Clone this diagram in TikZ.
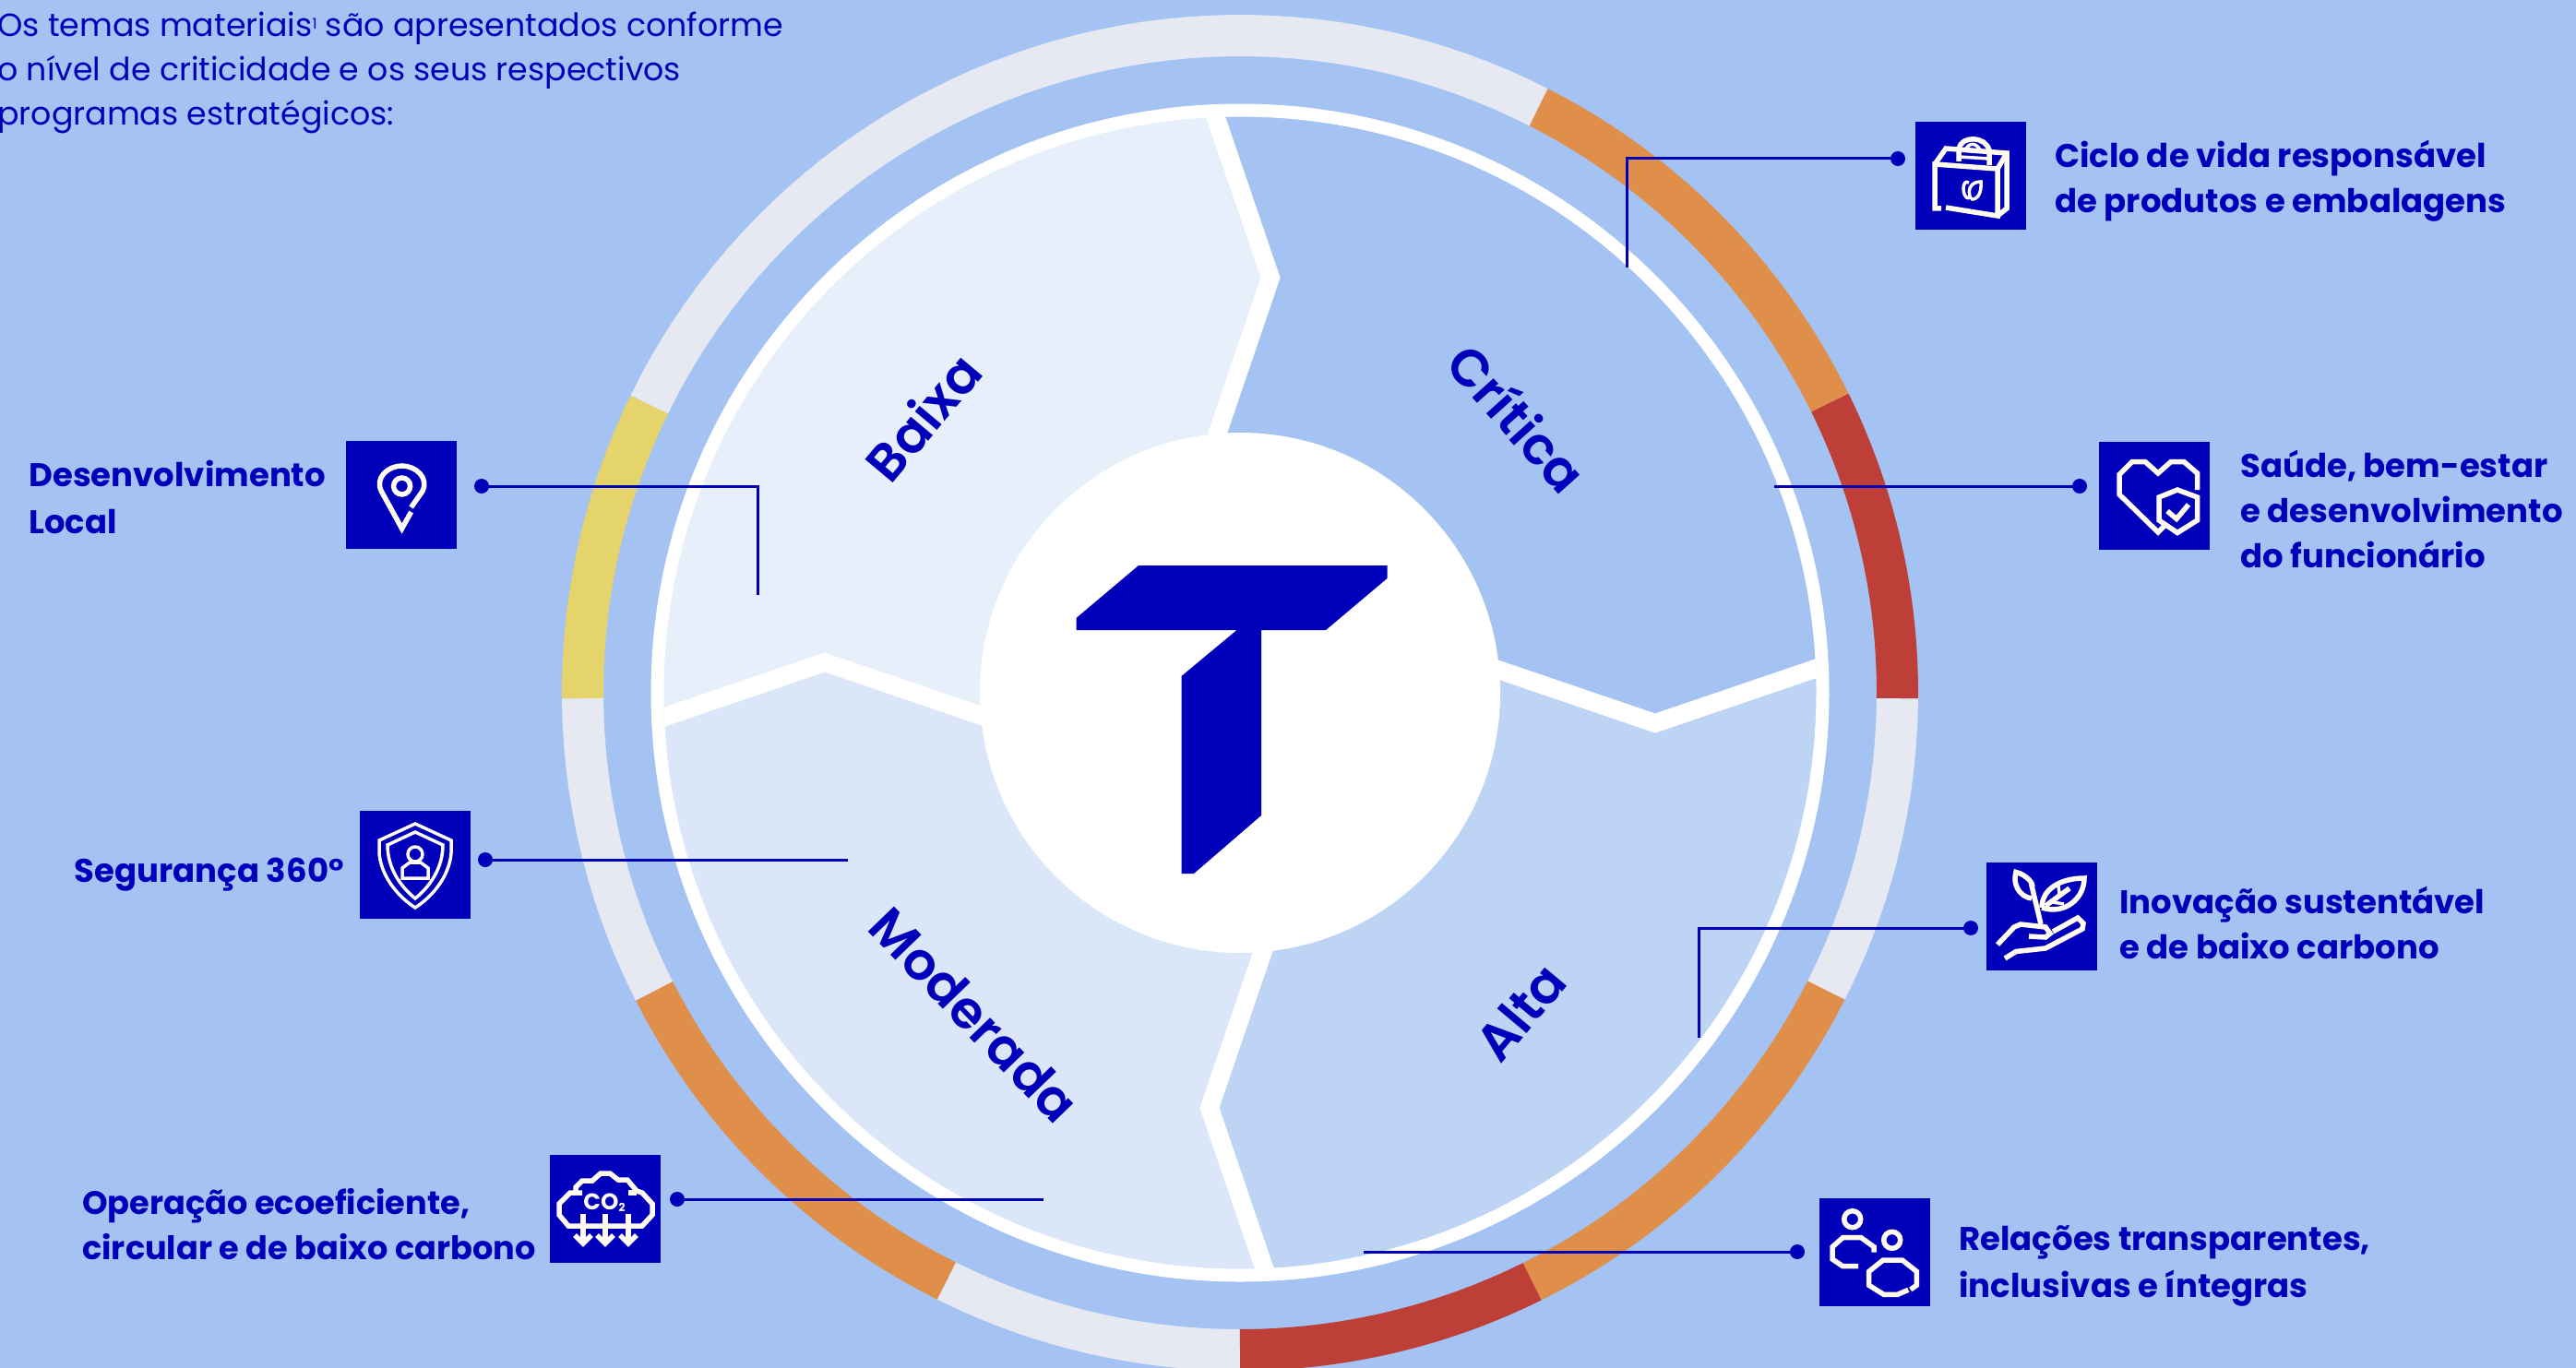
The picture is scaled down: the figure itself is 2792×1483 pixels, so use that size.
\documentclass[tikz,border=0pt]{standalone}
\usepackage{fontspec}
\setmainfont{Poppins}
\newfontfamily\medf{Poppins SemiBold}
\newdimen\px \px=0.02cm
\definecolor{bgc}{HTML}{A4C3F2}
\definecolor{navy}{HTML}{0000BB}
\definecolor{ringgray}{HTML}{E6E8F2}
\definecolor{ringorange}{HTML}{E08F4B}
\definecolor{ringred}{HTML}{BE3F38}
\definecolor{ringyellow}{HTML}{E5D36B}
\definecolor{qbaixa}{HTML}{E7EFFA}
\definecolor{qalta}{HTML}{BED4F5}
\definecolor{qmod}{HTML}{DBE7F9}
\definecolor{cream}{HTML}{FFFBF0}
\tikzset{
 x=0.02cm,y=-0.02cm,
 ringseg/.style={line width=45\px,line cap=butt,line join=round},
 divider/.style={draw=white,line width=20\px,miter limit=10,line cap=butt},
 iconbox/.style={fill=navy,draw=none,inner sep=0pt,minimum width=120\px,minimum height=117\px},
 dotn/.style={circle,fill=navy,draw=none,inner sep=0pt,minimum size=16\px},
 conn/.style={draw=navy,line width=3\px},
 icl/.style={draw=cream,line width=5.5\px,line join=miter,fill=none},
 icthin/.style={draw=cream,line width=3.5\px,line join=miter,fill=none},
 lbl/.style={text=navy,inner sep=0pt,align=left,font=\fontsize{20.2}{27.9}\selectfont\bfseries},
 lblw/.style={text=navy,inner sep=0pt,align=left,font=\fontsize{20.2}{29}\selectfont\bfseries},
 qlbl/.style={text=navy,inner sep=0pt,font=\fontsize{32}{36}\selectfont\medf},
}
\begin{document}
\begin{tikzpicture}
\useasboundingbox (0,0) rectangle (2792,1483);
\fill[bgc] (0,0) rectangle (2792,1483);
\coordinate (C) at (1344,751);
% outer ring
\begin{scope}[shift={(C)}]
\foreach \a/\b/\c in {-0.5/26.2/ringred,26.2/63/ringorange,63/154/ringgray,154/180.5/ringyellow,180.5/207/ringgray,207/243.5/ringorange,243.5/270/ringgray,270/296.4/ringred,296.4/333.1/ringorange,333.1/359.5/ringgray}{
 \draw[ringseg,\c] plot[domain=\a:\b,samples=50,variable=\t] ({712.5*cos(\t)},{-712.5*sin(\t)});
}
% quadrants
\begin{scope}
\clip (0,0) circle[radius=635];
\fill[qbaixa] (-29,-632) -- (33,-450) -- (-29,-268) -- (0,0) -- (-268,29) -- (-450,-33) -- (-632,29) -- (-700,-700) -- cycle;
\fill[bgc] (-29,-632) -- (33,-450) -- (-29,-268) -- (0,0) -- (268,-29) -- (450,33) -- (632,-29) -- (700,-700) -- cycle;
\fill[qalta] (632,-29) -- (450,33) -- (268,-29) -- (0,0) -- (29,268) -- (-33,450) -- (29,632) -- (700,700) -- cycle;
\fill[qmod] (29,632) -- (-33,450) -- (29,268) -- (0,0) -- (-268,29) -- (-450,-33) -- (-632,29) -- (-700,700) -- cycle;
\draw[divider] (-29,-632) -- (33,-450) -- (-29,-268);
\draw[divider] (632,-29) -- (450,33) -- (268,-29);
\draw[divider] (29,632) -- (-33,450) -- (29,268);
\draw[divider] (-632,29) -- (-450,-33) -- (-268,29);
\end{scope}
\draw[white,line width=14\px] (0,0) circle[radius=631.5];
\fill[white] (0,0) circle[radius=282];
\end{scope}
% logo
\fill[navy] (1234,613) -- (1503.5,613) -- (1503.5,627) -- (1437,683) -- (1367,683) -- (1367,884) -- (1294,947) -- (1280.5,947) -- (1280.5,733) -- (1340.6,683) -- (1166.5,683) -- (1166.5,670) -- cycle;
% quadrant labels
\node[qlbl,rotate=50] (qb) at (1000,452) {Baixa};
\node[qlbl,rotate=-48] (qc) at (1645,453) {Crítica};
\node[qlbl,rotate=50] (qa) at (1648,1097) {Alta};
\node[qlbl,rotate=-46] (qm) at (1056,1100) {Moderada};
% icons
\node[iconbox] (i1) at (2136,191) {};
\node[iconbox] (i2) at (2335,537) {};
\node[iconbox] (i3) at (2213,993) {};
\node[iconbox] (i4) at (2031.7,1357.5) {};
\node[iconbox] (i5) at (435.3,536.5) {};
\node[iconbox] (i6) at (450.3,937.5) {};
\node[iconbox] (i7) at (656,1310.5) {};
% connectors
\node[dotn] (d1) at (2057,172) {}; \coordinate (e1) at (1763,290);
\node[dotn] (d2) at (2254,527) {}; \coordinate (e2) at (1923,527);
\node[dotn] (d3) at (2136,1006) {}; \coordinate (e3) at (1841,1125);
\node[dotn] (d4) at (1948,1357) {}; \coordinate (e4) at (1478,1357);
\node[dotn] (d5) at (522,527) {}; \coordinate (e5) at (821,645);
\node[dotn] (d6) at (526,932) {}; \coordinate (e6) at (919,932);
\node[dotn] (d7) at (734,1300) {}; \coordinate (e7) at (1131,1300);
\draw[conn] (d1.center) -| (e1);
\draw[conn] (d2.center) -- (e2);
\draw[conn] (d3.center) -| (e3);
\draw[conn] (d4.center) -- (e4);
\draw[conn] (d5.center) -| (e5);
\draw[conn] (d6.center) -- (e6);
\draw[conn] (d7.center) -- (e7);
% bag
\begin{scope}[shift={(2076,133)}]
\draw[icl] (28,93) -- (21,93) -- (21,45) -- (89,50) -- (89,101) -- (33,92);
\draw[icl] (89,101) -- (99,93) -- (99,33) -- (33,28) -- (21,45);
\draw[icl] (89,50) -- (99,33);
\draw[icl] (47,42) -- (47,28) .. controls (50,14) and (76,14) .. (80,30) -- (80,46);
\draw[icthin] (54,30) .. controls (58,21) and (66,21) .. (71,31);
\draw[icthin] (47,37) -- (80,39);
\draw[icthin] (58,82) .. controls (50,82) and (50,60) .. (58,65);
\draw[icthin] (60,83) .. controls (55,70) and (62,64) .. (71,64) .. controls (72,75) and (68,84) .. (60,83);
\end{scope}
% heart
\begin{scope}[shift={(2275,479)}]
\draw[icl] (106.5,52) -- (106.5,34) -- (92,21.5) -- (78,21.5) -- (64,34) -- (50,21.5) -- (36,21.5) -- (22,35.5) -- (22,57) -- (64,98) -- (72,90);
\draw[icl] (85,52) -- (106.5,60) -- (106.5,85) -- (85,98.5) -- (65,85) -- (65,60) -- cycle;
\draw[icl] (74,75) -- (84,83.5) -- (97,68);
\end{scope}
% plant
\begin{scope}[shift={(2153,934)}]
\draw[icl] (49,40) .. controls (36,38) and (28,25) .. (32,11.5) .. controls (44,14) and (52,26) .. (49,26) -- (59,68);
\draw[icl] (60,50) .. controls (60,30) and (80,18) .. (106,18) .. controls (106,40) and (85,58) .. (60,50);
\draw[icl] (64,48) -- (90,29);
\draw[icthin] (78,26) -- (79,36);
\draw[icthin] (72,44) -- (84,46);
\draw[icl] (12,90) -- (30,71) -- (37,68) -- (64,71) -- (69,78) -- (64,82) -- (46,81);
\draw[icl] (72,76) -- (99,61) -- (105,67) -- (104,73) -- (64,94) -- (32,97.5) -- (20,105);
\end{scope}
% people
\begin{scope}[shift={(1971.7,1299)}]
\draw[icl] (36,22.7) circle[radius=9];
\draw[icl] (79,45.3) circle[radius=9];
\draw[icl] (59.3,58.7) -- (59.3,52.7) -- (45.6,42.7) -- (25.6,42.7) -- (14.3,52.7) -- (14.3,66) -- (25.6,73.7) -- (42.3,73.7);
\draw[icl] (99,99) -- (105.6,94.3) -- (105.6,79.3) -- (90,67) -- (69.3,67) -- (54,79.3) -- (54,94.3) -- (70,104.3) -- (85,104.3) -- (96.6,99.3);
\end{scope}
% pin
\begin{scope}[shift={(375.6,478)}]
\draw[icl] (70,77) -- (60,95) -- (38,55) .. controls (30,40) and (45,27) .. (60,27) .. controls (75,27) and (90,40) .. (82,55) -- (70,72);
\draw[icl] (60,49) circle[radius=9];
\end{scope}
% shield
\begin{scope}[shift={(390,879)}]
\draw[icthin] (60,14) -- (99,32) -- (99,46) .. controls (97,70) and (80,92) .. (60,105) .. controls (40,92) and (23,70) .. (21,46) -- (21,32) -- cycle;
\draw[icthin] (60,23) -- (90,37) .. controls (90,62) and (76,82) .. (60,95) .. controls (44,82) and (30,62) .. (30,37) -- cycle;
\draw[icthin] (60,47) circle[radius=8];
\draw[icthin] (46,73) -- (74,73) -- (74,62) -- (66,56) -- (54,56) -- (46,62) -- cycle;
\end{scope}
% co2
\begin{scope}[shift={(596,1252)}]
\draw[icl] (27,41) -- (22,41) -- (10,53) -- (10,65) -- (20,77) -- (100,77) -- (111,65) -- (111,53) -- (100,41) -- (94,39) -- (84,27) -- (74,27) -- (65,20) -- (55,20) -- (46,28) -- (35,28) -- (28,35) -- (28,41) -- (35,41);
\draw[icl] (85,41) -- (94,41);
\foreach \sx in {36,60,85}{
 \draw[icl] (\sx,64) -- (\sx,95);
 \draw[icl] (\sx-9,87) -- (\sx,96) -- (\sx+9,87);
}
\node[text=cream,inner sep=0pt,font=\fontsize{14}{14}\selectfont\bfseries] (co2t) at (59,52) {CO\raisebox{-1pt}{\fontsize{7}{7}\selectfont 2}};
\end{scope}
% labels
\node[lbl,anchor=west] (l1) at (2227,196) {Ciclo de vida responsável\\de produtos e embalagens};
\node[lbl,anchor=west] (l2) at (2428,552) {Saúde, bem-estar\\e desenvolvimento\\do funcionário};
\node[lbl,anchor=west] (l3) at (2297,1000) {Inovação sustentável\\e de baixo carbono};
\node[lblw,anchor=west] (l4) at (2123,1372) {Relações transparentes,\\inclusivas e íntegras};
\node[lblw,anchor=west] (l5) at (31,539) {Desenvolvimento\\Local};
\node[lbl,anchor=east] (l6) at (373,948.5) {Segurança 360°};
\node[lbl,anchor=west,font=\fontsize{20}{27.9}\selectfont\bfseries] (l7) at (89,1327) {Operação ecoeficiente,\\circular e de baixo carbono};
\node[text=navy,inner sep=0pt,align=left,anchor=north west,font=\fontsize{19.8}{27.3}\selectfont] (intro) at (-3,13) {Os temas materiais\raisebox{5pt}{\fontsize{9}{9}\selectfont 1} são apresentados conforme\\o nível de criticidade e os seus respectivos\\programas estratégicos:};
\end{tikzpicture}
\end{document}
